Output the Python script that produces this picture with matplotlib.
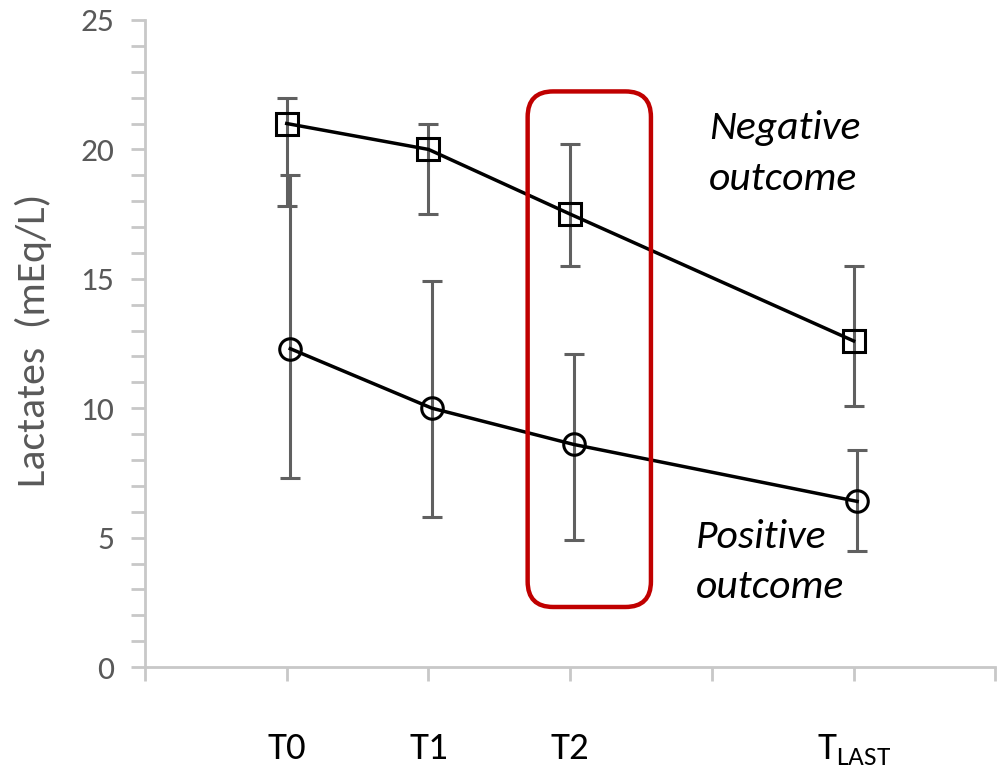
import numpy as np
import matplotlib.pyplot as plt
from matplotlib.patches import FancyBboxPatch

plt.rcParams['font.family'] = ['Carlito', 'Open Sans', 'DejaVu Sans']
plt.rcParams['mathtext.fontset'] = 'custom'
plt.rcParams['mathtext.rm'] = 'Carlito'

# data
x_pos = [1, 2, 3, 5]
neg_mean = [21.0, 20.0, 17.5, 12.6]
neg_upper = [22.0, 21.0, 20.2, 15.5]
neg_lower = [17.8, 17.5, 15.5, 10.1]
pos_mean = [12.3, 10.0, 8.6, 6.4]
pos_upper = [19.0, 14.9, 12.1, 8.4]
pos_lower = [7.3, 5.8, 4.9, 4.5]
tick_labels = ['', 'T0', 'T1', 'T2', '', 'T$_{\\mathrm{LAST}}$', '']

fig = plt.figure(figsize=(9.98, 7.69), dpi=100)
ax = fig.add_axes([0.1453, 0.1326, 0.852, 0.8414])

neg_m = np.array(neg_mean)
pos_m = np.array(pos_mean)
neg_err = [neg_m - np.array(neg_lower), np.array(neg_upper) - neg_m]
pos_err = [pos_m - np.array(pos_lower), np.array(pos_upper) - pos_m]
xn = np.array(x_pos, dtype=float)
xp = xn + 0.025

errcol = '#606060'
ax.errorbar(xn, neg_m, yerr=neg_err, fmt='none', ecolor=errcol, elinewidth=2.2, capsize=7, capthick=2.2, zorder=2)
ax.errorbar(xp, pos_m, yerr=pos_err, fmt='none', ecolor=errcol, elinewidth=2.2, capsize=7, capthick=2.2, zorder=2)
ax.plot(xn, neg_m, color='black', lw=2.5, marker='s', ms=15.5, mfc='none', mec='black', mew=2.2, zorder=3)
ax.plot(xp, pos_m, color='black', lw=2.5, marker='o', ms=15.5, mfc='none', mec='black', mew=2.2, zorder=3)

# highlight box around T2
box = FancyBboxPatch((2.70, 2.32), 0.87, 19.92, boxstyle='round,pad=0,rounding_size=0.18',
                     mutation_aspect=5.48, fill=False, ec='#c00000', lw=3.2, zorder=4)
ax.add_patch(box)

ax.text(3.98, 19.85, 'Negative\noutcome', ha='left', va='center', fontsize=30,
        style='italic', linespacing=1.5)
ax.text(3.89, 4.05, 'Positive\noutcome', ha='left', va='center', fontsize=30,
        style='italic', linespacing=1.5)

ax.set_xlim(0, 6)
ax.set_ylim(0, 25)
ax.set_xticks(range(7))
ax.set_xticklabels(tick_labels, fontsize=28)
ax.set_yticks(range(0, 26, 5))
ax.set_yticks(range(0, 26), minor=True)
ax.tick_params(axis='y', which='both', direction='out', length=10, width=2, color='#c8c8c8',
               labelsize=24, labelcolor='#595959', pad=12)
ax.tick_params(axis='x', direction='out', length=10, width=2, color='#c8c8c8', pad=37)

for s in ['top', 'right']:
    ax.spines[s].set_visible(False)
for s in ['left', 'bottom']:
    ax.spines[s].set_color('#c8c8c8')
    ax.spines[s].set_linewidth(2)

ax.set_ylabel('Lactates  (mEq/L)', fontsize=30, color='#595959')
ax.yaxis.set_label_coords(-0.109, 0.505)

fig.savefig('out.png', dpi=100)
